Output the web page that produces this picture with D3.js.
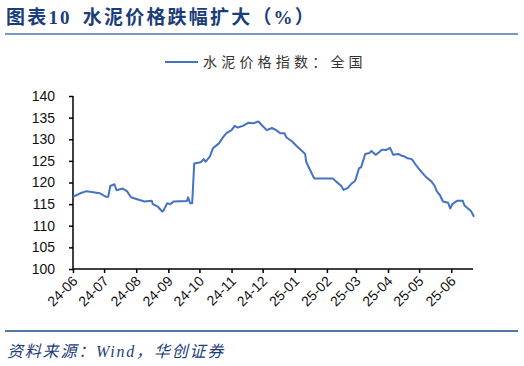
<!DOCTYPE html>
<html>
<head>
<meta charset="utf-8">
<script src="https://cdn.jsdelivr.net/npm/d3@7"></script>
<style>
  body { margin: 0; background: #fff; }
  svg { display: block; }
</style>
</head>
<body>
<div id="vis"></div>
<script>
// chart data: cement price index (national)
var dates = [
  '2024-06-01', '2024-06-08', '2024-06-14', '2024-06-27', '2024-07-03', '2024-07-05',
  '2024-07-07', '2024-07-11', '2024-07-13', '2024-07-19', '2024-07-23', '2024-07-27',
  '2024-08-01', '2024-08-09', '2024-08-16', '2024-08-17', '2024-08-22', '2024-08-26',
  '2024-08-27', '2024-08-31', '2024-09-03', '2024-09-06', '2024-09-19', '2024-09-20',
  '2024-09-22', '2024-09-24', '2024-09-26', '2024-10-01', '2024-10-03', '2024-10-05',
  '2024-10-07', '2024-10-11', '2024-10-14', '2024-10-18', '2024-10-20', '2024-10-23',
  '2024-10-27', '2024-11-01', '2024-11-04', '2024-11-07', '2024-11-12', '2024-11-17',
  '2024-11-22', '2024-11-27', '2024-11-30', '2024-12-05', '2024-12-10', '2024-12-14',
  '2024-12-18', '2024-12-22', '2024-12-24', '2024-12-29', '2025-01-03', '2025-01-08',
  '2025-01-11', '2025-01-12', '2025-01-15', '2025-01-19', '2025-01-20', '2025-02-07',
  '2025-02-10', '2025-02-15', '2025-02-17', '2025-02-21', '2025-02-25', '2025-02-28',
  '2025-03-01', '2025-03-04', '2025-03-06', '2025-03-10', '2025-03-14', '2025-03-16',
  '2025-03-20', '2025-03-24', '2025-03-26', '2025-03-30', '2025-04-03', '2025-04-06',
  '2025-04-11', '2025-04-14', '2025-04-17', '2025-04-20', '2025-04-24', '2025-04-28',
  '2025-05-03', '2025-05-08', '2025-05-13', '2025-05-16', '2025-05-18', '2025-05-21',
  '2025-05-24', '2025-05-29', '2025-05-31', '2025-06-02', '2025-06-07', '2025-06-12',
  '2025-06-14', '2025-06-20', '2025-06-23'
];
var values = [
  116.7, 117.5, 118.0, 117.5, 116.7, 116.7,
  119.2, 119.6, 118.2, 118.6, 118.0, 116.6,
  116.2, 115.6, 115.8, 115.0, 114.4, 113.3,
  113.4, 115.2, 115.0, 115.6, 115.7, 116.6,
  115.2, 115.2, 124.4, 124.6, 124.8, 125.4,
  124.8, 126.0, 127.9, 128.7, 129.1, 130.2,
  131.4, 132.1, 133.1, 132.7, 133.1, 133.8,
  133.7, 134.1, 133.3, 132.1, 132.6, 132.1,
  131.4, 131.4, 130.4, 129.6, 128.4, 127.3,
  126.6, 124.8, 123.3, 121.3, 120.9, 120.9,
  120.2, 119.2, 118.3, 118.7, 119.8, 120.3,
  120.9, 123.3, 123.5, 126.6, 126.8, 127.3,
  126.4, 127.1, 127.6, 127.5, 128.0, 126.4,
  126.6, 126.2, 126.0, 125.6, 125.4, 124.0,
  122.5, 121.2, 120.2, 119.2, 118.0, 117.1,
  115.6, 115.3, 114.0, 115.0, 115.8, 115.8,
  114.6, 113.4, 112.1
];
var yTicks = [100, 105, 110, 115, 120, 125, 130, 135, 140];
var xDomain = ['2024-06-01', '2025-06-22'];

var titleNum = '图表10';
var titleText = '水泥价格跌幅扩大（%）';
var seriesName = '水泥价格指数：全国';
var source = '资料来源：Wind，华创证券';

var width = 524;
var height = 366;
var margin = { top: 96, left: 73, bottom: 97, right: 51 };

var parseTime = d3.timeParse('%Y-%m-%d');
var data = dates.map(function (d, i) {
  return { date: parseTime(d), value: values[i] };
});

var svg = d3.select('#vis').append('svg')
  .attr('width', width)
  .attr('height', height);

// title and rule
var title = svg.append('text')
  .attr('x', 6)
  .attr('y', 24)
  .attr('fill', '#1b3d7a')
  .style('font-family', '"Liberation Serif", "Noto Sans CJK SC", serif')
  .style('font-weight', 'bold')
  .style('font-size', '19px')
  .style('letter-spacing', '2.2px');
title.append('tspan').text(titleNum);
title.append('tspan').attr('dx', 11).text(titleText);

svg.append('line')
  .attr('x1', 5).attr('x2', 518)
  .attr('y1', 34).attr('y2', 34)
  .attr('stroke', '#4f74ad')
  .attr('stroke-width', 1.5);

var g = svg.append('g')
  .attr('transform', 'translate(' + margin.left + ',' + margin.top + ')');

var innerW = width - margin.left - margin.right;
var innerH = height - margin.top - margin.bottom;

var x = d3.scaleTime()
  .domain(xDomain.map(parseTime))
  .range([0, innerW]);
var y = d3.scaleLinear()
  .domain([100, 140])
  .range([innerH, 0]);

// y axis
var yAxis = d3.axisLeft(y)
  .tickValues(yTicks)
  .tickSize(4)
  .tickPadding(14);
g.append('g').attr('class', 'y axis').call(yAxis);

// x axis
var xAxis = d3.axisBottom(x)
  .ticks(d3.timeMonth.every(1))
  .tickFormat(d3.timeFormat('%y-%m'))
  .tickSize(4);
var xg = g.append('g')
  .attr('class', 'x axis')
  .attr('transform', 'translate(0,' + innerH + ')')
  .call(xAxis);

xg.selectAll('text')
  .attr('text-anchor', 'end')
  .attr('dy', null)
  .attr('y', 0)
  .attr('x', 0)
  .attr('transform', 'translate(5,13) rotate(-45)');

svg.selectAll('.axis path, .axis line')
  .attr('stroke', '#000')
  .attr('stroke-width', 1.5);
svg.selectAll('.axis .domain')
  .attr('d', function () {
    return d3.select(this.parentNode).classed('x')
      ? 'M0,0H' + innerW
      : 'M0,' + innerH + 'V0';
  });
svg.selectAll('.axis text')
  .attr('fill', '#111')
  .style('font-family', '"Liberation Sans", Arial, sans-serif')
  .style('font-size', '14px');

// the line
var line = d3.line()
  .x(function (d) { return x(d.date); })
  .y(function (d) { return y(d.value); });

g.append('path')
  .datum(data)
  .attr('fill', 'none')
  .attr('stroke', '#4472c4')
  .attr('stroke-width', 2)
  .attr('stroke-linejoin', 'round')
  .attr('d', line);

// legend
svg.append('line')
  .attr('x1', 165).attr('x2', 198)
  .attr('y1', 62).attr('y2', 62)
  .attr('stroke', '#4472c4')
  .attr('stroke-width', 2);
svg.append('text')
  .attr('x', 203)
  .attr('y', 67)
  .attr('fill', '#333')
  .style('font-family', '"Noto Sans CJK SC", sans-serif')
  .style('font-size', '14px')
  .style('letter-spacing', '4.2px')
  .text(seriesName);

// footer
svg.append('line')
  .attr('x1', 5).attr('x2', 518)
  .attr('y1', 331).attr('y2', 331)
  .attr('stroke', '#1b4a8a')
  .attr('stroke-width', 1.5);
svg.append('text')
  .attr('x', 7)
  .attr('y', 357)
  .attr('fill', '#1b3d7a')
  .style('font-family', '"Liberation Serif", "Noto Sans CJK SC", serif')
  .style('font-style', 'italic')
  .style('font-size', '16px')
  .style('letter-spacing', '1.8px')
  .text(source);
</script>
</body>
</html>
